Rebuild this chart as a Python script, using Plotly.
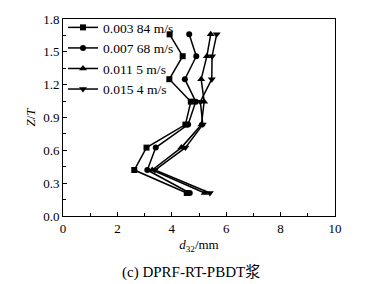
import plotly.graph_objects as go

z = [0.21, 0.42, 0.625, 0.835, 1.045, 1.25, 1.46, 1.66]
series_names = ["0.003 84 m/s", "0.007 68 m/s", "0.011 5 m/s", "0.015 4 m/s"]
d_s1 = [4.55, 2.62, 3.07, 4.50, 4.70, 3.91, 4.40, 3.92]
d_s2 = [4.66, 3.10, 3.41, 4.60, 4.88, 4.48, 4.90, 4.64]
d_s3 = [5.21, 3.28, 4.35, 5.09, 5.19, 5.08, 5.29, 5.43]
d_s4 = [5.40, 3.38, 4.50, 5.14, 5.05, 5.47, 5.48, 5.65]
symbols = ["square", "circle", "triangle-up", "triangle-down"]
x_ticks = [0, 2, 4, 6, 8, 10]
y_ticks = [0.0, 0.3, 0.6, 0.9, 1.2, 1.5, 1.8]

font_serif = "Liberation Serif, Times New Roman, serif"

fig = go.Figure()
for name, d, sym in zip(series_names, [d_s1, d_s2, d_s3, d_s4], symbols):
    fig.add_trace(go.Scatter(
        x=d, y=z, name=name, mode="lines+markers",
        line=dict(color="black", width=1.5),
        marker=dict(symbol=sym, size=7 if "triangle" in sym else 6, color="black"),
    ))

fig.update_layout(
    width=373, height=284,
    margin=dict(l=63, r=38, t=15, b=68),
    paper_bgcolor="white", plot_bgcolor="white",
    font=dict(family=font_serif, size=13, color="black"),
    showlegend=True,
    legend=dict(
        x=0.0, y=1.035, xanchor="left", yanchor="top",
        bgcolor="rgba(0,0,0,0)", font=dict(size=13.5, family=font_serif),
        itemwidth=30, tracegroupgap=0, borderwidth=0,
    ),
    annotations=[dict(
        text="(c) DPRF-RT-PBDT浆", xref="paper", yref="paper",
        x=0.47, y=-0.23, xanchor="center", yanchor="top", showarrow=False,
        font=dict(family="Liberation Serif, Noto Sans CJK SC", size=15, color="black"),
    )],
)
fig.update_xaxes(
    range=[0, 10], tickvals=x_ticks, ticktext=[str(t) for t in x_ticks],
    showgrid=False, zeroline=False, showline=True, linecolor="black", linewidth=1,
    mirror=True, ticks="inside", ticklen=4, tickcolor="black",
    minor=dict(dtick=1, ticks="inside", ticklen=3, tickcolor="black"),
    title=dict(text="<i>d</i><sub>32</sub>/mm", standoff=5, font=dict(size=13)),
    tickfont=dict(size=13),
)
fig.update_yaxes(
    range=[0, 1.8], tickvals=y_ticks, ticktext=[f"{t:.1f}" for t in y_ticks],
    showgrid=False, zeroline=False, showline=True, linecolor="black", linewidth=1,
    mirror=True, ticks="inside", ticklen=4, tickcolor="black",
    minor=dict(dtick=0.15, ticks="inside", ticklen=3, tickcolor="black"),
    title=dict(text="<i>Z</i>/<i>T</i>", standoff=4, font=dict(size=13)),
    tickfont=dict(size=13),
)

fig.write_html("out.html")
